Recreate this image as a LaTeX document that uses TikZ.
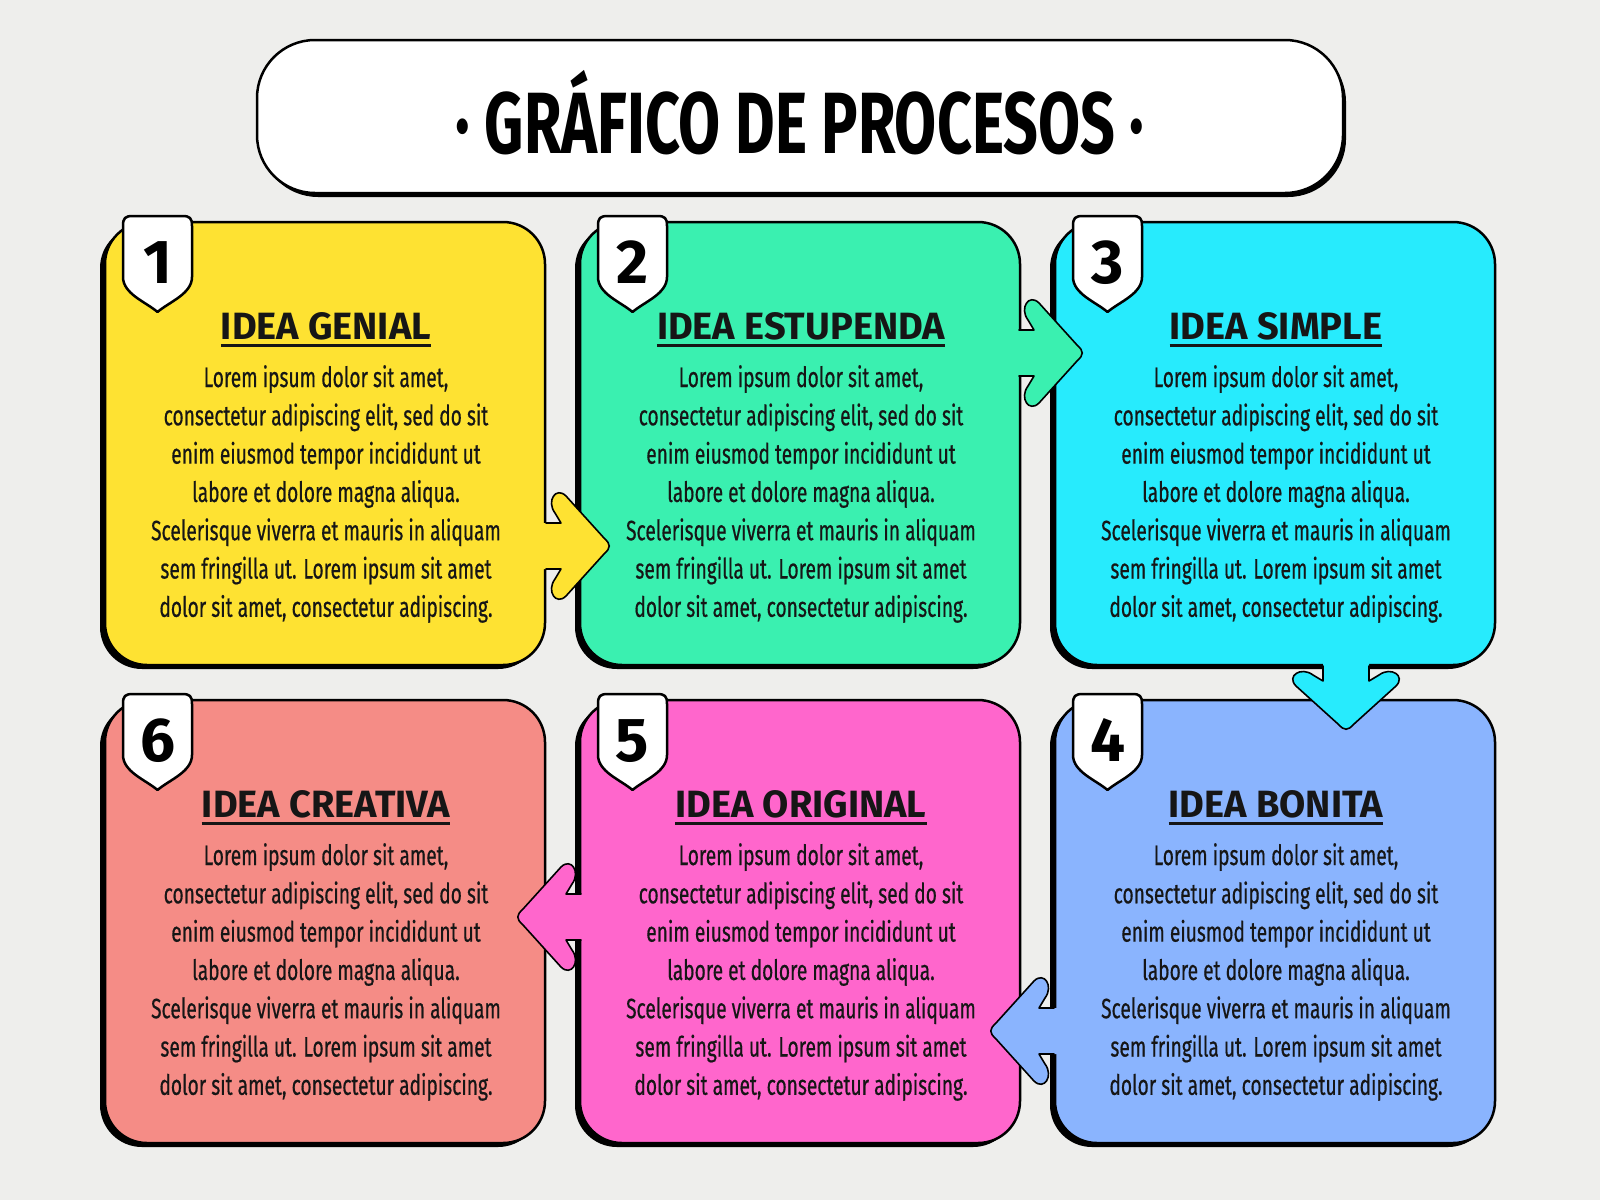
\documentclass[tikz,border=0pt]{standalone}
\usepackage{fontspec}
\setmainfont{Fira Sans}
\newfontfamily\bodyfont[FakeStretch=0.685,FakeBold=0.5]{Fira Sans}
\newfontfamily\headfont{Fira Sans}
\newfontfamily\titlefont[FakeStretch=0.7]{Fira Sans}
\usetikzlibrary{calc,shadows}
\definecolor{bgc}{RGB}{238,238,236}
\definecolor{cyel}{RGB}{254,226,50}
\definecolor{cgrn}{RGB}{58,240,176}
\definecolor{ccya}{RGB}{39,235,253}
\definecolor{cblu}{RGB}{138,180,254}
\definecolor{cpnk}{RGB}{255,102,204}
\definecolor{csal}{RGB}{245,140,134}
\definecolor{ink}{RGB}{22,22,22}
\tikzset{
  ideabox/.style={draw=black, line width=2.5pt, rounded corners=42pt,
    minimum width=440pt, minimum height=443pt, outer sep=0pt, inner sep=0pt,
    general shadow={fill=black, shadow xshift=-5pt, shadow yshift=-4pt}},
  titlebox/.style={draw=black, fill=white, line width=2.5pt, rounded corners=58pt,
    minimum width=1086pt, minimum height=153pt, outer sep=0pt, inner sep=0pt,
    general shadow={fill=black, shadow xshift=3pt, shadow yshift=-4pt}},
  titletext/.style={anchor=base, inner sep=0pt, text=black,
    font=\titlefont\bfseries\fontsize{87}{90}\selectfont},
  badge/.style={draw=black, fill=white, line width=2.5pt, line join=round},
  numtext/.style={anchor=base, inner sep=0pt, text=black,
    font=\headfont\bfseries\fontsize{62}{64}\selectfont},
  headtext/.style={anchor=base, inner sep=0pt, text=ink,
    font=\headfont\bfseries\fontsize{38}{40}\selectfont},
  uline/.style={draw=ink, line width=3pt},
  bodytext/.style={anchor=base, inner sep=0pt, text=ink,
    font=\bodyfont\fontsize{28}{30}\selectfont},
  arrowline/.style={draw=black, line width=1.6pt, line join=round, line cap=round},
}
\newcommand\bodylines{{Lorem ipsum dolor sit amet,},{consectetur adipiscing elit, sed do sit},{enim eiusmod tempor incididunt ut},{labore et dolore magna aliqua.},{Scelerisque viverra et mauris in aliquam},{sem fringilla ut. Lorem ipsum sit amet},{dolor sit amet, consectetur adipiscing.}}
\newcommand\ideacontent[3]{%
  \begin{scope}[shift={(#1.north west)}]
    \draw[badge] (18,4) .. controls (18,-4) and (20,-6) .. (28,-6) -- (77,-6)
      .. controls (85,-6) and (87,-4) .. (87,4) -- (87,55)
      .. controls (87,72) and (64,80) .. (52.5,90)
      .. controls (41,80) and (18,72) .. (18,55) -- cycle;
    \node[numtext] (#1n) at (52.5,61) {#2};
    \node[headtext] (#1h) at (221,117) {#3};
    \foreach \t [count=\i] in \bodylines {
      \node[bodytext] (#1l\i) at (221,{165+(\i-1)*38.3}) {\t};
    }
  \end{scope}
  \draw[uline] ([yshift=-6pt]#1h.base west) -- ([yshift=-6pt]#1h.base east);
}
\newcommand\arrowpath[1]{(-#1,-23) -- (-51,-23) -- (-57,-33)
      .. controls (-66,-45) and (-56,-60) .. (-46,-50) -- (-8,-8)
      .. controls (-1,-1.5) and (-1,1.5) .. (-8,8) -- (-46,50)
      .. controls (-56,60) and (-66,45) .. (-57,33) -- (-51,23) -- (-#1,23)}
\newcommand\fatarrow[3]{%
  \begin{scope}[shift={(#2)}, rotate=#3]
    \fill[#1] \arrowpath{80} -- cycle;
    \draw[arrowline] \arrowpath{66};
  \end{scope}}
\begin{document}
\begin{tikzpicture}[x=1pt, y=-1pt]
  \useasboundingbox (0,0) rectangle (1600,1200);
  \fill[bgc] (0,0) rectangle (1600,1200);
  % title
  \node[titlebox] (title) at (800,116.5) {};
  \node[titletext] (titlet) at (800,153) {· GRÁFICO DE PROCESOS ·};
  % boxes
  \node[ideabox, fill=cyel] (b1) at (325,443.5) {};
  \node[ideabox, fill=cgrn] (b2) at (800,443.5) {};
  \node[ideabox, fill=ccya] (b3) at (1275,443.5) {};
  \node[ideabox, fill=cblu] (b4) at (1275,921.5) {};
  \node[ideabox, fill=cpnk] (b5) at (800,921.5) {};
  \node[ideabox, fill=csal] (b6) at (325,921.5) {};
  \ideacontent{b1}{1}{IDEA GENIAL}
  \ideacontent{b2}{2}{IDEA ESTUPENDA}
  \ideacontent{b3}{3}{IDEA SIMPLE}
  \ideacontent{b4}{4}{IDEA BONITA}
  \ideacontent{b5}{5}{IDEA ORIGINAL}
  \ideacontent{b6}{6}{IDEA CREATIVA}
  % connectors
  \coordinate (t12) at ($(b1.north east)+(67,324)$);
  \coordinate (t23) at ($(b2.north east)+(65,131)$);
  \coordinate (t34) at ($(b3.south)+(71,67)$);
  \coordinate (t45) at ($(b4.north west)+(-67,331)$);
  \coordinate (t56) at ($(b5.north west)+(-65,217)$);
  \fatarrow{cyel}{t12}{0}
  \fatarrow{cgrn}{t23}{0}
  \fatarrow{ccya}{t34}{-90}
  \fatarrow{cblu}{t45}{180}
  \fatarrow{cpnk}{t56}{180}
\end{tikzpicture}
\end{document}
